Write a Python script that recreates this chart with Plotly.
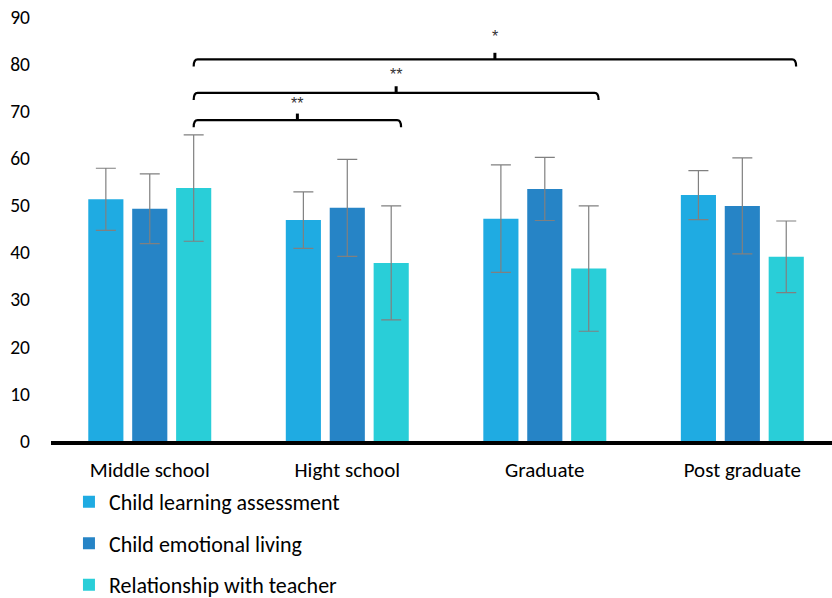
import plotly.graph_objects as go

# Education level groups and the three scored dimensions (mean ± SD)
groups = ["Middle school", "Hight school", "Graduate", "Post graduate"]
series_names = ["Child learning assessment", "Child emotional living", "Relationship with teacher"]

learning = [51.3, 46.9, 47.2, 52.2]
learning_sd = [6.6, 6.0, 11.4, 5.2]
emotional = [49.3, 49.5, 53.5, 49.9]
emotional_sd = [7.4, 10.3, 6.7, 10.2]
teacher = [53.7, 37.8, 36.6, 39.1]
teacher_sd = [11.3, 12.1, 13.3, 7.6]

y_ticks = [0, 10, 20, 30, 40, 50, 60, 70, 80, 90]

# Significance brackets: (from group, to group, bracket level, label height, label)
comparisons = [
    (0, 1, 68.1, 71.6, "**"),
    (0, 2, 73.9, 77.9, "**"),
    (0, 3, 81.0, 85.8, "*"),
]

colors = ["#1FABE2", "#2684C6", "#29CED8"]
FONT = "Carlito, Calibri, Lato, sans-serif"

x_idx = list(range(len(groups)))
BAR_GAP = 0.333
GROUP_GAP = 0.2
n_series = 3
slot = (1 - BAR_GAP) / n_series  # width of one bar slot in category units

fig = go.Figure()
for name, vals, sd, col in zip(series_names, [learning, emotional, teacher],
                               [learning_sd, emotional_sd, teacher_sd], colors):
    fig.add_trace(go.Bar(
        name=name, x=x_idx, y=vals, legendgroup=name,
        marker=dict(color=col, line=dict(width=0)),
        error_y=dict(type="data", array=sd, visible=True,
                     color="#808080", thickness=1.2, width=10),
    ))

# Brackets start at the teacher bar of the first group
offset_last = slot * (n_series - 1) / 2
drop, rise, pad = 1.5, 1.4, 0.05
shapes = []
annotations = []
for a, b, level, label_y, label in comparisons:
    x1 = a + offset_last
    x2 = b + offset_last + pad
    xm = (x1 + x2) / 2
    path = (f"M {x1},{level - drop} Q {x1},{level} {x1 + 0.02},{level} "
            f"L {x2 - 0.02},{level} Q {x2},{level} {x2},{level - drop}")
    shapes.append(dict(type="path", path=path, xref="x", yref="y",
                       line=dict(color="black", width=2.2)))
    shapes.append(dict(type="line", x0=xm, x1=xm, y0=level, y1=level + rise,
                       xref="x", yref="y", line=dict(color="black", width=3)))
    annotations.append(dict(x=xm, y=label_y, xref="x", yref="y", text=label,
                            showarrow=False, yanchor="middle",
                            font=dict(size=16, color="#333333", family="Liberation Sans")))

fig.update_layout(
    width=832, height=598,
    margin=dict(l=51, r=0, t=17, b=157, autoexpand=False),
    paper_bgcolor="white", plot_bgcolor="white",
    barmode="group", bargap=BAR_GAP, bargroupgap=GROUP_GAP,
    font=dict(family=FONT, size=21, color="black"),
    showlegend=True,
    legend=dict(orientation="v", x=0.023, y=-0.094, xanchor="left", yanchor="top",
                traceorder="grouped", tracegroupgap=10,
                font=dict(size=22, color="black", family=FONT)),
    shapes=shapes, annotations=annotations,
)
fig.update_xaxes(
    range=[-0.5, 3.454], tickvals=x_idx, ticktext=groups,
    showline=True, linecolor="black", linewidth=4,
    showgrid=False, zeroline=False, ticks="", ticklabelstandoff=7,
    tickfont=dict(size=21), fixedrange=True,
)
fig.update_yaxes(
    range=[0, 90], tickvals=y_ticks, showgrid=False, zeroline=False,
    showline=False, ticks="", ticklabelstandoff=20,
    tickfont=dict(size=19.5), fixedrange=True,
)

fig.write_html("out.html")
